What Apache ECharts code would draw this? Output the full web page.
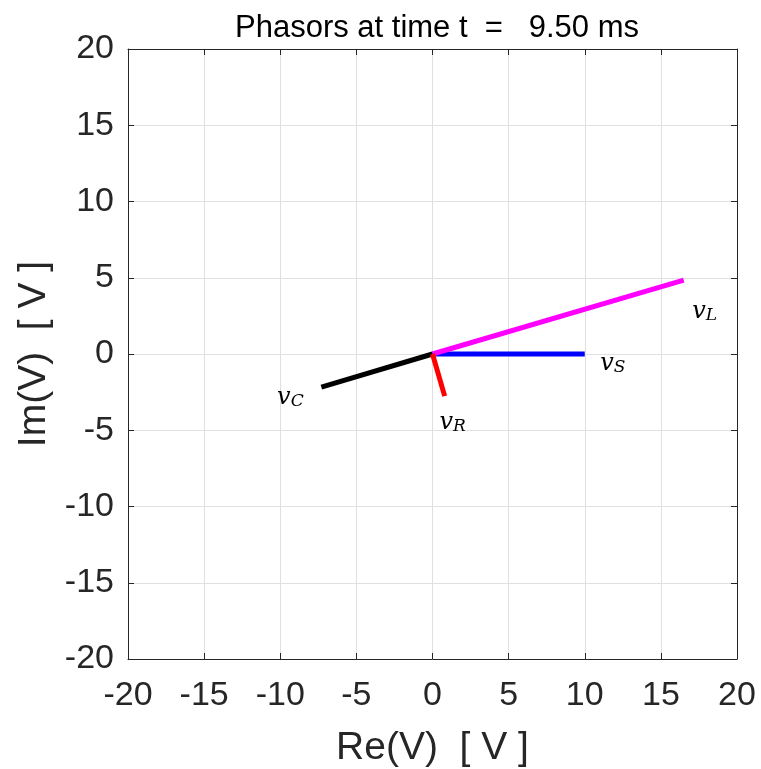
<!DOCTYPE html>
<html><head><meta charset="utf-8">
<script src="https://cdn.jsdelivr.net/npm/echarts@6/dist/echarts.min.js"></script>
<style>html,body{margin:0;padding:0;background:#fff}#c{width:761px;height:769px}</style>
</head><body><div id="c"></div>
<script>
const titleText = 'Phasors at time t  =   9.50 ms';
const xTicks = [-20, 20, 5];
const yTicks = [-20, 20, 5];
const phasorNames = ['S', 'L', 'C', 'R'];
const phasorRe = [10, 16.5, -7.3, 0.8];
const phasorIm = [0, 4.85, -2.17, -2.76];
const phasorColors = ['#0000ff', '#ff00ff', '#000000', '#ff0000'];
const labelOffsets = [[28, 7], [21, 29], [-31, 8], [8, 24]];

const chart = echarts.init(document.getElementById('c'));
const axisCol = '#262626';
function xAx(pos, show) {
  return {type:'value', position:pos, min:xTicks[0], max:xTicks[1], interval:xTicks[2],
    axisLine:{show:true, onZero:false, lineStyle:{color:axisCol, width:1}},
    axisTick:{show:true, inside:true, length:6, lineStyle:{color:axisCol}},
    axisLabel:{show:show, color:'#262626', fontSize:34, fontFamily:'Liberation Sans', margin:20},
    splitLine:{show:show, lineStyle:{color:'#e0e0e0', width:1}},
    name: show ? 'Re(V)  [ V ]' : '', nameLocation:'middle', nameGap:70,
    nameTextStyle:{fontSize:39, color:'#262626', fontFamily:'Liberation Sans'}};
}
function yAx(pos, show) {
  return {type:'value', position:pos, min:yTicks[0], max:yTicks[1], interval:yTicks[2],
    axisLine:{show:true, onZero:false, lineStyle:{color:axisCol, width:1}},
    axisTick:{show:true, inside:true, length:6, lineStyle:{color:axisCol}},
    axisLabel:{show:show, color:'#262626', fontSize:34, fontFamily:'Liberation Sans', margin:14},
    splitLine:{show:show, lineStyle:{color:'#e0e0e0', width:1}},
    name: show ? 'Im(V)  [ V ]' : '', nameLocation:'middle', nameGap:74, nameRotate:90,
    nameTextStyle:{fontSize:39, color:'#262626', fontFamily:'Liberation Sans'}};
}
const series = phasorNames.map((n, i) => ({
  type:'line', xAxisIndex:0, yAxisIndex:0, symbol:'none', silent:true,
  lineStyle:{color:phasorColors[i], width:5},
  label:{show:false},
  data:[[0,0], {value:[phasorRe[i], phasorIm[i]], symbol:'circle', symbolSize:0.01,
    label:{show:true, offset:labelOffsets[i], position:'inside',
    formatter:'{v|v}{s|' + n + '}',
    rich:{v:{fontFamily:'DejaVu Serif', fontStyle:'italic', fontSize:24, color:'#000', lineHeight:30, verticalAlign:'bottom'},
          s:{fontFamily:'DejaVu Serif', fontStyle:'italic', fontSize:17, color:'#000', padding:[10,0,0,0], lineHeight:30, verticalAlign:'bottom'}}}}]
}));
chart.setOption({
  animation:false,
  title:{text:titleText, left:432, top:8, textAlign:'center',
    textStyle:{fontSize:31, fontWeight:'normal', color:'#000', fontFamily:'Liberation Sans'}},
  grid:{left:128, right:24, top:49, bottom:110, containLabel:false, outerBoundsMode:'none'},
  xAxis:[xAx('bottom', true), xAx('top', false)],
  yAxis:[yAx('left', true), yAx('right', false)],
  series: series
});
</script></body></html>
